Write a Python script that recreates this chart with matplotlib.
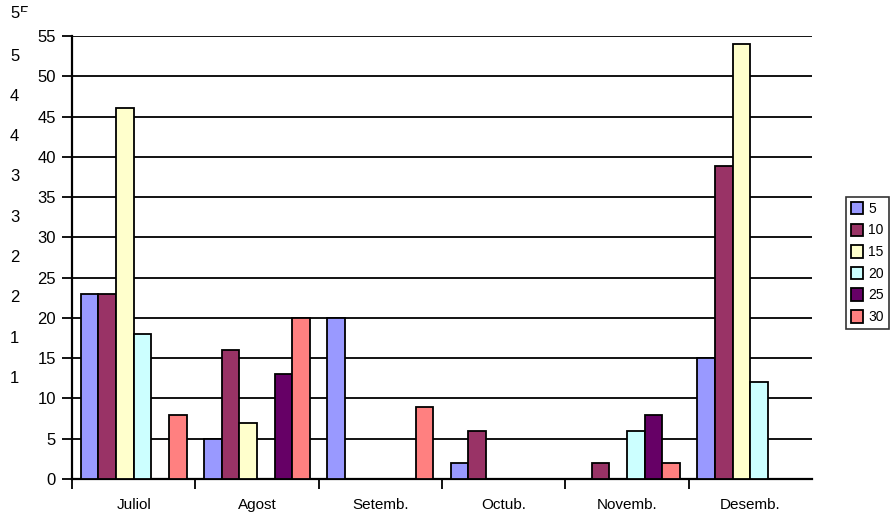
import numpy as np
import matplotlib
matplotlib.use("Agg")
from matplotlib import pyplot as plt
from matplotlib.transforms import Bbox

plt.rcParams['font.family'] = ['Liberation Sans', 'DejaVu Sans']

months = ["Juliol", "Agost", "Setemb.", "Octub.", "Novemb.", "Desemb."]
series = ["5", "10", "15", "20", "25", "30"]
v5 = [23, 5, 20, 2, 0, 15]
v10 = [23, 16, 0, 6, 2, 38.8]
v15 = [46, 7, 0, 0, 0, 54]
v20 = [18, 0, 0, 0, 6, 12]
v25 = [0, 13, 0, 0, 8, 0]
v30 = [8, 20, 9, 0, 2, 0]
values = [v5, v10, v15, v20, v25, v30]
colors = ["#9999FF", "#993366", "#FFFFCC", "#CCFFFF", "#660066", "#FF8080"]
yticks = list(range(0, 60, 5))
# truncated labels of the hidden second axis
ghost = ["5", "4", "4", "3", "3", "2", "2", "1", "1"]

W, H = 891, 518
fig = plt.figure(figsize=(W / 100, H / 100), dpi=100)
ax = fig.add_axes([72 / W, 1 - 479 / H, 740 / W, 443 / H])

x = np.arange(len(months))
bw = 0.143
for i, (name, vals) in enumerate(zip(series, values)):
    off = (i - 2.5) * bw
    ax.bar(x + 0.5 + off, vals, width=bw, color=colors[i], edgecolor="black",
           linewidth=1.3, label=name, zorder=3)

ax.set_xlim(0, len(months))
ax.set_ylim(0, 55)
ax.set_yticks(yticks)
ax.yaxis.grid(True, color="black", linewidth=1.3, zorder=0)
ax.set_axisbelow(True)
ax.set_xticks(range(len(months)))
ax.set_xticklabels([])
ax.set_xticks(x + 0.5, minor=True)
ax.set_xticklabels(months, minor=True)
ax.tick_params(axis="x", which="major", length=7.5, width=1.3, direction="out")
ax.tick_params(axis="x", which="minor", length=0, pad=14, labelsize=11)
ax.tick_params(axis="y", length=7.5, width=1.3, labelsize=12, pad=4)
for s in ["top", "right"]:
    ax.spines[s].set_visible(False)
for s in ["left", "bottom"]:
    ax.spines[s].set_linewidth(1.6)

# ghost labels on the far left
for k, lab in enumerate(ghost):
    yv = 52.5 - 5 * k
    ax.text(-62 / 740 * 6, yv, lab, fontsize=12, ha="left", va="center",
            clip_on=False)
t1 = fig.text(10 / W, 1 - 13 / H, "5", fontsize=12, ha="left", va="center")
t2 = fig.text(19 / W, 1 - 13 / H, "5", fontsize=12, ha="left", va="center")
t2.set_clip_on(True)
t2.set_clip_box(Bbox.from_extents(0, H - 12, W, H))

leg = ax.legend(loc="upper left", bbox_to_anchor=(846 / W, 1 - 197 / H),
                bbox_transform=fig.transFigure, frameon=True, fancybox=False,
                edgecolor="black", fontsize=10, handlelength=0.85, handleheight=1.0,
                handletextpad=0.4, labelspacing=0.55, borderpad=0.35,
                borderaxespad=0)
leg.get_frame().set_linewidth(1.2)

fig.savefig("out.png", dpi=100)
